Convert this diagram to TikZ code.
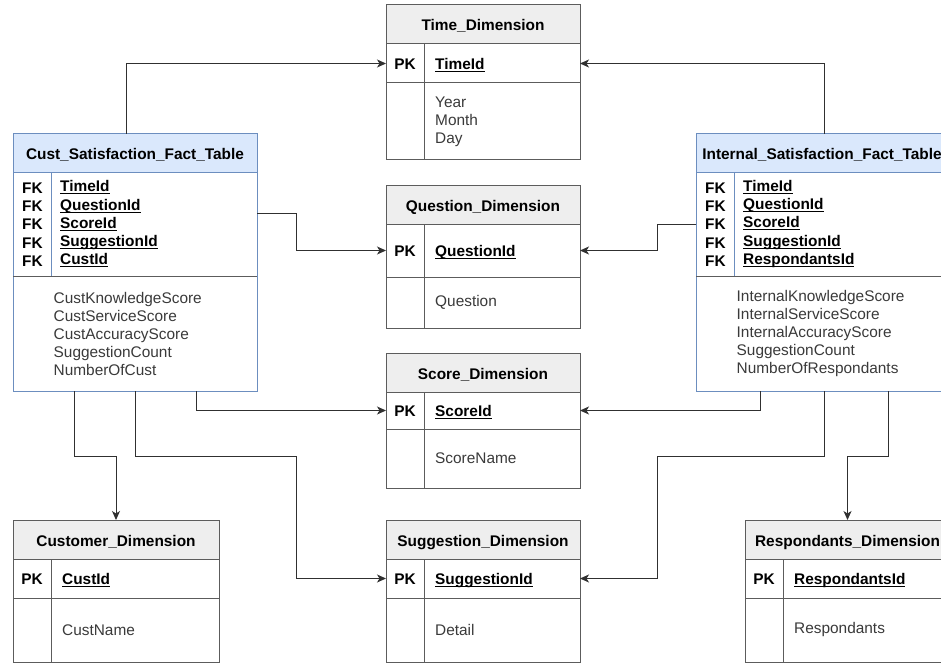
\documentclass[tikz,border=0pt]{standalone}
\usepackage{fontspec}
\setmainfont{Liberation Sans}
\usetikzlibrary{arrows.meta}
\definecolor{tabline}{HTML}{5C5C5C}
\definecolor{dimfill}{HTML}{EEEEEE}
\definecolor{factfill}{HTML}{DAE8FC}
\definecolor{factline}{HTML}{6C8EBF}
\definecolor{conncol}{HTML}{303030}
\definecolor{bodycol}{HTML}{3A3A3A}
\newsavebox\ulbox
\newcommand{\ulf}[1]{\sbox\ulbox{#1}\rlap{\rule[-2.4pt]{\wd\ulbox}{1pt}}\usebox\ulbox}
\tikzset{
  rowbox/.style={draw=tabline, line width=1pt, inner sep=0pt, outer sep=0pt},
  dimhead/.style={rowbox, fill=dimfill, font=\fontsize{15.4}{18.2}\selectfont\bfseries, text height=14pt, text depth=1pt},
  factbox/.style={draw=factline, line width=1pt, inner sep=0pt, outer sep=0pt},
  facthead/.style={factbox, fill=factfill, font=\fontsize{15.4}{18.2}\selectfont\bfseries, text height=14pt, text depth=1pt},
  keytxt/.style={inner sep=0pt, font=\fontsize{15.4}{18.25}\selectfont\bfseries},
  onekey/.style={keytxt, text height=12pt, text depth=0.5pt},
  fieldtxt/.style={inner sep=0pt, font=\fontsize{15.4}{18.25}\selectfont\bfseries},
  onefield/.style={fieldtxt, text height=12pt, text depth=0.5pt},
  bodytxt/.style={inner sep=0pt, text=bodycol, font=\fontsize{15.4}{18}\selectfont},
  tabsep/.style={draw=tabline, line width=1pt},
  factsep/.style={draw=factline, line width=1pt},
  conn/.style={draw=conncol, line width=1pt, -{Stealth[length=9pt,width=8pt,inset=2.5pt]}}
}
% #1 name #2 L #3 T #4 W #5 key row h #6 body h #7 title #8 key #9 body
\newcommand{\dimtab}[9]{%
  \node[dimhead, anchor=north west, minimum width=#4, minimum height=39] (#1) at (#2,#3) {#7};
  \node[rowbox, anchor=north west, minimum width=#4, minimum height=#5] (#1k) at (#1.south west) {};
  \node[rowbox, anchor=north west, minimum width=#4, minimum height=#6] (#1b) at (#1k.south west) {};
  \draw[tabsep] ([xshift=38pt]#1k.north west) -- ([xshift=38pt]#1b.south west);
  \node[onekey] (#1pk) at ([xshift=19pt]#1k.west) {PK};
  \node[onefield, anchor=west] (#1f) at ([xshift=49pt]#1k.west) {\ulf{#8}};
  \node[bodytxt, anchor=west, align=left] (#1t) at ([xshift=49pt]#1b.west) {#9};
}
% #1 name #2 L #3 W #4 title #5 fields #6 body
\newcommand{\facttab}[6]{%
  \node[facthead, anchor=north west, minimum width=#3, minimum height=38] (#1) at (#2,134) {#4};
  \node[factbox, anchor=north west, minimum width=#3, minimum height=104] (#1k) at (#1.south west) {};
  \node[factbox, anchor=north west, minimum width=#3, minimum height=115] (#1b) at (#1k.south west) {};
  \draw[factsep] ([xshift=38.5pt]#1k.north west) -- ([xshift=38.5pt]#1k.south west);
  \draw[tabsep] (#1k.south west) -- (#1k.south east);
  \node[keytxt, align=center] (#1fk) at ([xshift=19.5pt,yshift=-0.5pt]#1k.west) {FK\\FK\\FK\\FK\\FK};
  \node[fieldtxt, anchor=west, align=left] (#1f) at ([xshift=47pt]#1k.west) {#5};
  \node[bodytxt, anchor=west, align=left] (#1t) at ([xshift=40.5pt]#1b.west) {#6};
}
\begin{document}
\begin{tikzpicture}[x=1pt,y=-1pt]
\useasboundingbox (0,0) rectangle (941,663);
\clip (0,0) rectangle (941,663);
\fill[white] (0,0) rectangle (941,663);

% dimension tables
\dimtab{time}{386}{5}{194}{39}{77}{Time\_Dimension}{TimeId}{Year\\Month\\Day}
\dimtab{quest}{386}{185}{194}{53}{51}{Question\_Dimension}{QuestionId}{Question}
\dimtab{score}{386}{353}{194}{37}{59}{Score\_Dimension}{ScoreId}{ScoreName}
\dimtab{sugg}{386}{520}{194}{39}{64}{Suggestion\_Dimension}{SuggestionId}{Detail}
\dimtab{custd}{13}{520}{206}{39}{64}{Customer\_Dimension}{CustId}{CustName}
\dimtab{resp}{745}{520}{205}{39}{64}{Respondants\_Dimension}{RespondantsId}{Respondants}

% fact tables
\facttab{cust}{13}{244}{Cust\_Satisfaction\_Fact\_Table}
  {\ulf{TimeId}\\\ulf{QuestionId}\\\ulf{ScoreId}\\\ulf{SuggestionId}\\\ulf{CustId}}
  {CustKnowledgeScore\\CustServiceScore\\CustAccuracyScore\\SuggestionCount\\NumberOfCust}
\facttab{intl}{696}{252}{Internal\_Satisfaction\_Fact\_Table}
  {\ulf{TimeId}\\\ulf{QuestionId}\\\ulf{ScoreId}\\\ulf{SuggestionId}\\\ulf{RespondantsId}}
  {InternalKnowledgeScore\\InternalServiceScore\\InternalAccuracyScore\\SuggestionCount\\NumberOfRespondants}

% connectors
\draw[conn] (126,0 |- cust.north) |- (timek.west);
\draw[conn] (824,0 |- intl.north) |- (timek.east);
\draw[conn] (custk.east |- 0,213) -| ([xshift=-90pt]questk.west) -- (questk.west);
\draw[conn] (intlk.west |- 0,224) -| ([xshift=77pt]questk.east) -- (questk.east);
\draw[conn] (196,0 |- custb.south) |- (scorek.west);
\draw[conn] (760,0 |- intlb.south) |- (scorek.east);
\draw[conn] (74,0 |- custb.south) -- (74,456) -| (custd.north);
\draw[conn] (135,0 |- custb.south) -- (135,456) -| ([xshift=-90pt]suggk.west) -- (suggk.west);
\draw[conn] (824,0 |- intlb.south) -- (824,456) -| ([xshift=77pt]suggk.east) -- (suggk.east);
\draw[conn] (888,0 |- intlb.south) -- (888,456) -| (resp.north);
\end{tikzpicture}
\end{document}
